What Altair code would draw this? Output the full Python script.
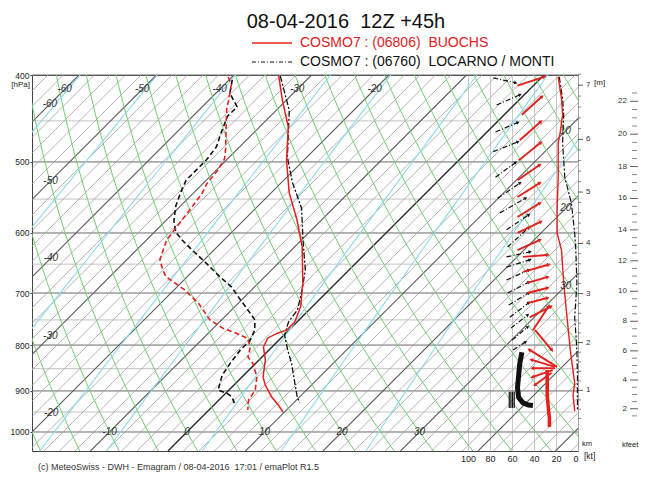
import altair as alt
import numpy as np
import pandas as pd

NB = "\u00a0"
# ---------------- text ----------------
TITLE = "08-04-2016" + NB + NB + "12Z +45h"
LEG1 = "COSMO7 : (06806)" + NB + NB + "BUOCHS"
LEG2 = "COSMO7 : (06760)" + NB + NB + "LOCARNO / MONTI"
FOOTER = "(c) MeteoSwiss - DWH - Emagram / 08-04-2016" + NB + NB + "17:01 / emaPlot R1.5"

# ---------------- profiles (p in hPa, T in degC) ----------------
bu_t_p = [401, 426, 457, 498, 541, 580, 622, 627, 682, 725, 754, 770, 776, 786, 804, 831, 868, 886, 914, 933, 950]
bu_t = [-34.1, -30.6, -26.3, -22.2, -17.7, -13.2, -9.0, -8.6, -4.3, -1.5, -0.3, -0.3, -1.1, -1.7, -1.1, 0.8, 2.7, 4.0, 6.4, 8.3, 9.8]

bu_td_p = [402, 410, 423, 438, 483, 496, 511, 528, 543, 566, 585, 611, 643, 659, 671, 694, 718, 750, 766, 776, 786, 804, 825, 838, 868, 898, 921, 945]
bu_td = [-40.5, -39.1, -37.8, -36.4, -31.6, -30.4, -29.8, -29.5, -28.8, -28.3, -27.9, -27.4, -25.7, -24.1, -22.8, -18.7, -15.2, -11.5, -8.8, -6.4, -4.3, -2.8, -1.8, -0.4, 1.9, 3.4, 3.8, 5.0]

lo_t_p = [401, 438, 494, 527, 563, 611, 659, 694, 731, 754, 780, 810, 838, 882, 914, 928]
lo_t = [-33.9, -28.3, -22.5, -18.6, -14.1, -9.8, -5.7, -3.5, -1.5, -1.1, 0.1, 2.4, 4.6, 7.6, 9.7, 10.8]

lo_td_p = [405, 419, 434, 445, 464, 481, 497, 510, 524, 541, 560, 582, 599, 611, 627, 649, 672, 689, 712, 731, 750, 770, 790, 810, 838, 864, 898, 905, 914, 933]
lo_td = [-39.6, -38.2, -35.5, -35.5, -34.2, -33.0, -32.6, -32.6, -32.6, -31.7, -30.6, -28.9, -27.2, -25.4, -22.8, -19.2, -15.7, -13.0, -10.2, -7.9, -5.7, -4.4, -3.7, -3.7, -3.3, -2.8, -1.4, 0.1, 1.3, 2.7]

# ---------------- wind panel (kt scale, 0 at right) ----------------
bu_w_p1 = [411, 443, 473, 498, 524, 547, 576, 600, 627, 638, 663, 682, 700, 718, 745, 770, 770, 846, 846, 849, 853, 859]
bu_w_kt1 = [55, 51, 53, 54, 55, 55, 55, 55, 55, 50, 50, 46, 46, 45, 44, 41, 39, 19, 21, 21, 23, 24]
bu_w_p2 = [402, 423, 451, 476, 504, 528, 556, 583, 611, 635, 651, 672, 691, 709, 725, 725, 810, 810, 831, 849, 868, 886]
bu_w_kt2 = [31, 33, 34, 34, 35, 35, 35, 34, 35, 28, 27, 28, 28, 28, 25, 27, 24, 44, 42, 41, 41, 39]
bu_sfc_p = [853, 880, 910, 940, 965, 987]
bu_sfc_kt = [28, 28, 28, 27, 26, 26]

lo_w_p1 = [403, 432, 463, 487, 520, 549, 570, 595, 622, 638, 655, 677, 700, 722, 745, 766, 790, 810]
lo_w_kt1 = [77, 74, 75, 77, 75, 73, 71, 65, 64, 65, 65, 65, 64, 63, 62, 61, 60, 59]
lo_w_p2 = [408, 421, 452, 475, 501, 528, 549, 573, 592, 630, 643, 660, 681, 700, 718, 741, 764, 794]
lo_w_kt2 = [57, 53, 55, 55, 57, 53, 48, 45, 45, 44, 44, 45, 45, 45, 45, 46, 46, 48]
lo_sfc_p = [815, 840, 866, 892, 915, 928, 933, 934]
lo_sfc_kt = [51, 53, 54, 55, 54, 50, 45, 41]
lo_hair_kt = [58, 59.5, 61, 62.5]

bu_r_p = [402, 425, 443, 462, 476, 520, 566, 600, 627, 682, 745, 810, 846, 882, 910, 948]
bu_r_kt = [18, 15, 14, 16, 18, 18, 19, 19, 15, 13, 10, 7, 5, 3, 4.5, 3]
lo_r_p = [402, 425, 443, 476, 520, 556, 600, 627, 682, 745, 810, 868, 945]
lo_r_kt = [17, 14, 13, 14, 12, 6, 3, 2, 1, 3, 1, 0.5, 0.5]

# ---------------- axes / grid values ----------------
P_MAJOR = [400, 500, 600, 700, 800, 900, 1000]
P_MINOR = [450, 550, 650, 750, 850, 950]
KT_TICKS = [0, 20, 40, 60, 80, 100]
KM_LABELS = [1, 2, 3, 4, 5, 6, 7]
KFT_LABELS = [2, 4, 6, 8, 10, 12, 14, 16, 18, 20, 22]
MIX = [0.03, 0.1, 0.3, 1, 2, 5, 10, 20]
ISO_LEFT = [(-60, 431), (-50, 525), (-40, 640), (-30, 782), (-20, 952)]
ISO_TOP = [(-60, 415), (-50, 415), (-40, 415), (-30, 415), (-20, 415)]
ISO_RIGHT = [(10, 462), (20, 563), (30, 687)]
ISO_BOTTOM = [(-10, 1000), (0, 1000), (10, 1000), (20, 1000), (30, 1000)]

# ---------------- geometry ----------------
W, H = 546, 376
SKEW = 50.27
XDOM = [-20.0, 50.45]
KTMAX = 496.36
SKEW_EXPR = f"datum.T + {SKEW}*log(1000/datum.p)"
FONT = "Liberation Sans"
RED = "#e3201b"

xs = alt.Scale(domain=XDOM, nice=False, zero=False)
ys = alt.Scale(type="log", domain=[400, 1050], reverse=True, nice=False)
ws = alt.Scale(domain=[0, KTMAX], reverse=True, nice=False, zero=False)
YAX = alt.Axis(values=P_MAJOR, title=None, grid=False, domain=False, tickSize=2, tickColor="#444",
               labelFontSize=8.5, labelFont=FONT, labelColor="#222", labelPadding=1, format="d")


def Y(field):
    return alt.Y(field, scale=ys, axis=YAX)


def std_p(h_m):
    return 1013.25 * (1 - 2.25577e-5 * h_m) ** 5.25588


def skew_lines(df, **mk):
    enc = dict(x=alt.X("X:Q", scale=xs, axis=None), y=Y("p:Q"), order=alt.Order("p:Q"))
    if "id" in df.columns:
        enc["detail"] = "id:N"
    return alt.Chart(df).transform_calculate(X=SKEW_EXPR).mark_line(clip=True, **mk).encode(**enc)


# grid data
iso_minor, iso_major, iso_zero = [], [], []
for t in range(-70, 56, 2):
    for p in (400, 1050):
        row = {"T": t, "p": p, "id": t}
        if t == 0:
            iso_zero.append(row)
        elif t % 10 == 0:
            iso_major.append(row)
        else:
            iso_minor.append(row)

pp = np.geomspace(400, 1050, 30)
dry = []
for th in range(-25, 100, 5):
    for p in pp:
        dry.append({"T": (th + 273.15) * (p / 1000) ** 0.2857 - 273.15, "p": p, "id": th})
mix = []
for w in MIX:
    for p in pp:
        e = w * p / (622 + w)
        l = np.log(e / 6.112)
        mix.append({"T": 243.5 * l / (17.67 - l), "p": p, "id": w})

layers = []
# isobars
layers.append(alt.Chart(pd.DataFrame({"p": P_MAJOR})).mark_rule(color="#6a6a6a", strokeWidth=1).encode(y=Y("p:Q")))
layers.append(alt.Chart(pd.DataFrame({"p": P_MINOR})).mark_rule(color="#b4b4b4", strokeWidth=0.8).encode(y=Y("p:Q")))
# isotherms
layers.append(skew_lines(pd.DataFrame(iso_minor), color="#a2a2a2", strokeWidth=0.8))
layers.append(skew_lines(pd.DataFrame(iso_major), color="#5a5a5a", strokeWidth=1.1))
layers.append(skew_lines(pd.DataFrame(iso_zero), color="#222222", strokeWidth=1.3))
# dry adiabats and mixing ratio
layers.append(skew_lines(pd.DataFrame(dry), color="#6fd06f", strokeWidth=1))
layers.append(skew_lines(pd.DataFrame(mix), color="#8fd8ee", strokeWidth=1.1))

# wind grid + axis (independent x)
layers.append(alt.Chart(pd.DataFrame({"kt": KT_TICKS, "p": [1000] * 6})).mark_point(opacity=0).encode(
    x=alt.X("kt:Q", scale=ws, axis=alt.Axis(values=KT_TICKS, title=None, grid=True, gridColor="#bdbdbd",
                                            gridWidth=0.8, ticks=False, domain=False, labelFontSize=9,
                                            labelFont=FONT, labelColor="#222", labelPadding=3, orient="bottom")),
    y=Y("p:Q")))

# profiles
layers.append(skew_lines(pd.DataFrame({"p": lo_td_p, "T": lo_td}), color="#111", strokeWidth=1.6, strokeDash=[5, 3]))
layers.append(skew_lines(pd.DataFrame({"p": bu_td_p, "T": bu_td}), color=RED, strokeWidth=1.6, strokeDash=[5, 3]))
layers.append(skew_lines(pd.DataFrame({"p": lo_t_p, "T": lo_t}), color="#111", strokeWidth=1.3, strokeDash=[6, 2, 2, 2]))
layers.append(skew_lines(pd.DataFrame({"p": bu_t_p, "T": bu_t}), color=RED, strokeWidth=1.5))


# right-side curves in wind panel
def kt_line(p, kt, **mk):
    return alt.Chart(pd.DataFrame({"p": p, "kt": kt})).mark_line(**mk).encode(
        x=alt.X("kt:Q", scale=ws, axis=None), y=Y("p:Q"), order=alt.Order("p:Q"))

layers.append(kt_line(lo_r_p, lo_r_kt, color="#111", strokeWidth=1.2, strokeDash=[6, 2, 2, 2]))
layers.append(kt_line(bu_r_p, bu_r_kt, color=RED, strokeWidth=1.4))

# wind arrows
ANG = "(atan2(-(datum.kt2-datum.kt1)*1.1, -389.6*log(datum.p2/datum.p1))*180/PI + 360) % 360"


def arrows(p1, k1, p2, k2, color, width, dash=None, size=16):
    df = pd.DataFrame({"p1": p1, "kt1": k1, "p2": p2, "kt2": k2})
    mk = dict(color=color, strokeWidth=width)
    if dash:
        mk["strokeDash"] = dash
    shaft = alt.Chart(df).mark_rule(**mk).encode(
        x=alt.X("kt1:Q", scale=ws, axis=None), x2="kt2:Q", y=Y("p1:Q"), y2="p2:Q")
    head = alt.Chart(df).transform_calculate(ang=ANG).mark_point(
        shape="triangle", filled=True, color=color, size=size, opacity=1).encode(
        x=alt.X("kt2:Q", scale=ws, axis=None), y=Y("p2:Q"),
        angle=alt.Angle("ang:Q", scale=None))
    return [shaft, head]

layers += arrows(lo_w_p1, lo_w_kt1, lo_w_p2, lo_w_kt2, "#111", 1.2, [5, 2, 1, 2], 14)
layers.append(kt_line(lo_sfc_p, lo_sfc_kt, color="#111", strokeWidth=5))
layers.append(alt.Chart(pd.DataFrame({"kt": lo_hair_kt, "p1": [902] * 4, "p2": [940] * 4})).mark_rule(
    color="#111", strokeWidth=1.2).encode(x=alt.X("kt:Q", scale=ws, axis=None), y=Y("p1:Q"), y2="p2:Q"))
layers += arrows(bu_w_p1, bu_w_kt1, bu_w_p2, bu_w_kt2, RED, 1.9, None, 18)
layers.append(kt_line(bu_sfc_p, bu_sfc_kt, color=RED, strokeWidth=3.5))

# isotherm labels
lab_rows = [{"T": t, "p": p, "lab": str(t)} for t, p in ISO_LEFT + ISO_TOP + ISO_RIGHT + ISO_BOTTOM]
layers.append(alt.Chart(pd.DataFrame(lab_rows)).transform_calculate(X=SKEW_EXPR).mark_text(
    font=FONT, fontSize=10, fontStyle="italic", color="#333", align="center", baseline="middle").encode(
    x=alt.X("X:Q", scale=xs, axis=None), y=Y("p:Q"), text="lab:N"))

# height axes on the right
km_minor = [round(0.4 + 0.2 * i, 1) for i in range(35)]
df_kmt = pd.DataFrame({"p": [std_p(h * 1000) for h in km_minor],
                       "major": [abs(h - round(h)) < 1e-6 for h in km_minor]})
layers.append(alt.Chart(df_kmt[df_kmt.major]).mark_rule(color="#333", strokeWidth=0.8).encode(
    x=alt.value(W), x2=alt.value(W + 5), y=Y("p:Q")))
layers.append(alt.Chart(df_kmt[~df_kmt.major]).mark_rule(color="#555", strokeWidth=0.7).encode(
    x=alt.value(W), x2=alt.value(W + 3), y=Y("p:Q")))
layers.append(alt.Chart(pd.DataFrame({"p": [std_p(h * 1000) for h in KM_LABELS], "lab": [str(h) for h in KM_LABELS]}))
              .mark_text(font=FONT, fontSize=8, color="#333", align="left", baseline="middle").encode(
    x=alt.value(W + 8), y=Y("p:Q"), text="lab:N"))

kft_all = [1.5 + 0.5 * i for i in range(43)]
df_kft = pd.DataFrame({"p": [std_p(k * 304.8) for k in kft_all],
                       "major": [k in KFT_LABELS for k in kft_all]})
layers.append(alt.Chart(df_kft[df_kft.major]).mark_rule(color="#333", strokeWidth=0.8).encode(
    x=alt.value(W + 52), x2=alt.value(W + 60), y=Y("p:Q")))
layers.append(alt.Chart(df_kft[~df_kft.major]).mark_rule(color="#555", strokeWidth=0.7).encode(
    x=alt.value(W + 54), x2=alt.value(W + 59), y=Y("p:Q")))
layers.append(alt.Chart(pd.DataFrame({"p": [std_p(k * 304.8) for k in KFT_LABELS], "lab": [str(k) for k in KFT_LABELS]}))
              .mark_text(font=FONT, fontSize=8, color="#333", align="right", baseline="middle").encode(
    x=alt.value(W + 49), y=Y("p:Q"), text="lab:N"))

# annotations (title, legend, units, footer)
one = pd.DataFrame({"a": [0]})


def txt(s, x, y, size, color="#111", align="left", style="normal"):
    return alt.Chart(one).mark_text(text=s, font=FONT, fontSize=size, color=color, align=align,
                                    baseline="middle", fontStyle=style).encode(x=alt.value(x), y=alt.value(y))

layers.append(txt(TITLE, 314, -53, 20, "#111", "center"))
layers.append(alt.Chart(one).mark_rule(color=RED, strokeWidth=1.6).encode(
    x=alt.value(220), x2=alt.value(260), y=alt.value(-32)))
layers.append(txt(LEG1, 268, -32, 14, RED))
layers.append(alt.Chart(one).mark_rule(color="#111", strokeWidth=1, strokeDash=[4, 2, 1, 2]).encode(
    x=alt.value(220), x2=alt.value(260), y=alt.value(-13)))
layers.append(txt(LEG2, 268, -13, 14, "#111"))
layers.append(txt("[hPa]", -2, 10, 8, "#222", "right"))
layers.append(txt("[m]", W + 16, 8, 8, "#222"))
layers.append(txt("km", W + 4, 369, 7.5, "#222"))
layers.append(txt("kfeet", W + 44, 370, 7.5, "#222"))
layers.append(txt("[kt]", W + 6, 381, 8.5, "#222"))
layers.append(txt(FOOTER, 6, 392, 9, "#333"))

chart = alt.layer(*layers).resolve_scale(x="independent").properties(
    width=W, height=H,
    padding={"left": 24, "top": 67, "right": 64, "bottom": 25},
    autosize=alt.AutoSizeParams(type="none"),
).configure_view(stroke="#444", strokeWidth=1)

chart.save("out.html", embed_options={"renderer": "svg", "actions": False})
